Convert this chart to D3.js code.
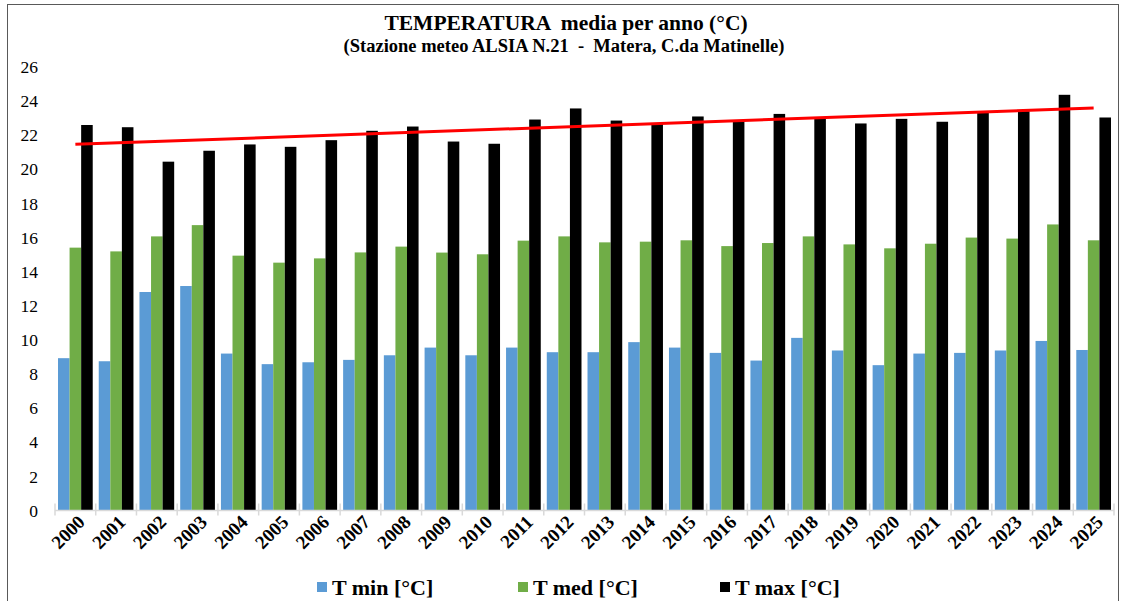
<!DOCTYPE html>
<html>
<head>
<meta charset="utf-8">
<script src="https://cdn.jsdelivr.net/npm/d3@7"></script>
<style>
  body { margin: 0; background: #fff; }
  svg text { font-family: "Liberation Serif", "Times New Roman", serif; white-space: pre; }
</style>
</head>
<body>
<div id="chart"></div>
<script>
// data
var years = ["2000","2001","2002","2003","2004","2005","2006","2007","2008","2009","2010","2011","2012",
             "2013","2014","2015","2016","2017","2018","2019","2020","2021","2022","2023","2024","2025"];
var tMin = [8.93,8.75,12.81,13.16,9.2,8.58,8.69,8.83,9.1,9.55,9.1,9.55,9.28,
            9.28,9.87,9.55,9.24,8.79,10.12,9.38,8.52,9.2,9.24,9.38,9.94,9.41];
var tMed = [15.41,15.19,16.07,16.73,14.94,14.53,14.78,15.13,15.47,15.12,15.02,15.82,16.07,
            15.72,15.76,15.84,15.5,15.68,16.07,15.6,15.37,15.64,16.0,15.94,16.77,15.84];
var tMax = [22.6,22.47,20.45,21.09,21.46,21.32,21.71,22.26,22.51,21.63,21.5,22.92,23.57,
            22.86,22.7,23.1,22.82,23.25,23.0,22.69,22.96,22.79,23.35,23.41,24.37,23.04];
var seriesNames = ["T min [°C]", "T med [°C]", "T max [°C]"];
var colors = ["#5B9BD5", "#70AD47", "#000000"];
var yTicks = [0,2,4,6,8,10,12,14,16,18,20,22,24,26];
var title = "TEMPERATURA  media per anno (°C)";
var subtitle = "(Stazione meteo ALSIA N.21  -  Matera, C.da Matinelle)";

var width = 1124, height = 601;
var plot = {left: 55, right: 1114, top: 67, bottom: 510.5};

var svg = d3.select("#chart").append("svg")
    .attr("width", width)
    .attr("height", height);

svg.append("rect").attr("width", width).attr("height", height).attr("fill", "#fff");

// outer frame
svg.append("rect")
    .attr("x", 7.5).attr("y", 4.5)
    .attr("width", 1111).attr("height", 620)
    .attr("fill", "none").attr("stroke", "#595959").attr("stroke-width", 1);

// titles
svg.append("text").attr("x", 566).attr("y", 30)
    .attr("text-anchor", "middle").style("font-size", "21.5px").style("font-weight", "bold")
    .text(title);
svg.append("text").attr("x", 564).attr("y", 52)
    .attr("text-anchor", "middle").style("font-size", "18.5px").style("font-weight", "bold")
    .text(subtitle);

var x_scale = d3.scaleBand().domain(years).range([plot.left, plot.right]).paddingInner(0).paddingOuter(0);
var inner = d3.scaleBand().domain([0,1,2]).range([0, x_scale.bandwidth()]).paddingInner(0).paddingOuter(0.26);
var y_scale = d3.scaleLinear().domain([0, 26]).range([plot.bottom, plot.top]);

// y labels (no axis line)
svg.append("g").selectAll("text")
    .data(yTicks).enter().append("text")
    .attr("x", 38)
    .attr("y", d => y_scale(d))
    .attr("dy", "0.35em")
    .attr("text-anchor", "end")
    .style("font-size", "17.5px")
    .text(d => d);

// bars
var series = [tMin, tMed, tMax];
series.forEach(function(vals, s) {
    svg.append("g").selectAll("rect")
        .data(vals).enter().append("rect")
        .attr("x", (d, i) => x_scale(years[i]) + inner(s))
        .attr("width", inner.bandwidth())
        .attr("y", d => y_scale(d))
        .attr("height", d => y_scale(0) - y_scale(d))
        .attr("fill", colors[s]);
});

// x axis with crossing ticks
var bounds = years.map(y => x_scale(y)).concat([plot.right]);
svg.append("line")
    .attr("x1", plot.left).attr("x2", plot.right)
    .attr("y1", plot.bottom).attr("y2", plot.bottom)
    .attr("stroke", "#d9d9d9").attr("stroke-width", 1.5);
svg.append("g").selectAll("line")
    .data(bounds).enter().append("line")
    .attr("x1", d => d).attr("x2", d => d)
    .attr("y1", plot.bottom - 7).attr("y2", plot.bottom + 5)
    .attr("stroke", "#d9d9d9").attr("stroke-width", 1.5);

svg.append("g").selectAll("text")
    .data(years).enter().append("text")
    .attr("transform", d => "translate(" + (x_scale(d) + x_scale.bandwidth() / 2 + 6) + "," + (plot.bottom + 8) + ") rotate(-45)")
    .attr("text-anchor", "end")
    .attr("dy", "0.35em")
    .style("font-size", "19px").style("font-weight", "bold")
    .text(d => d);

// linear trend on T max
var n = tMax.length;
var mx = (n - 1) / 2, my = d3.mean(tMax);
var sxy = d3.sum(tMax, (v, i) => (i - mx) * (v - my));
var sxx = d3.sum(tMax, (v, i) => (i - mx) * (i - mx));
var slope = sxy / sxx, icpt = my - slope * mx;
svg.append("line")
    .attr("x1", x_scale(years[0]) + x_scale.bandwidth() / 2)
    .attr("x2", x_scale(years[n - 1]) + x_scale.bandwidth() / 2)
    .attr("y1", y_scale(icpt))
    .attr("y2", y_scale(icpt + slope * (n - 1)))
    .attr("stroke", "#FF0000").attr("stroke-width", 3);

// legend
var legendX = [317, 518, 720];
var lg = svg.append("g").selectAll("g")
    .data(seriesNames).enter().append("g")
    .attr("transform", (d, i) => "translate(" + legendX[i] + ",587)");
lg.append("rect").attr("x", 0).attr("y", -5).attr("width", 10).attr("height", 10)
    .attr("fill", (d, i) => colors[i]);
lg.append("text").attr("x", 15).attr("dy", "0.35em")
    .style("font-size", "22px").style("font-weight", "bold")
    .text(d => d);
</script>
</body>
</html>
